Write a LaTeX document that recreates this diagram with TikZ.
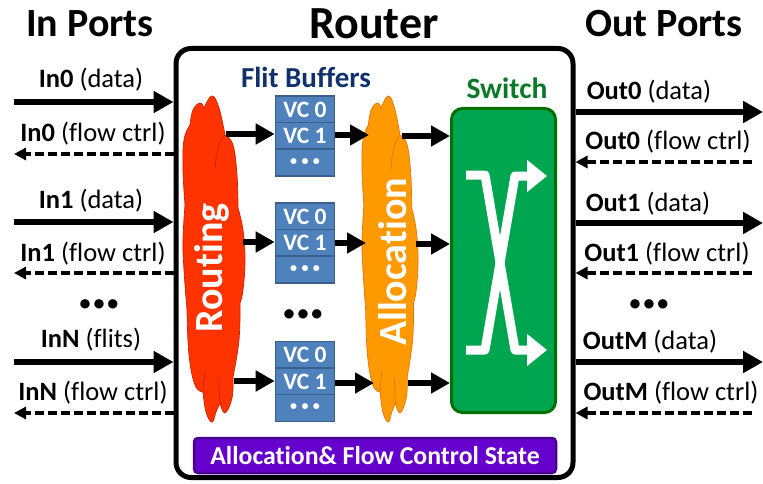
\documentclass[tikz,border=0pt]{standalone}
\usepackage{fontspec}
\setmainfont{Carlito}[Ligatures=CommonOff]
\usetikzlibrary{arrows.meta}
\definecolor{routered}{HTML}{FF3300}
\definecolor{routeredge}{HTML}{CC2200}
\definecolor{allocor}{HTML}{FF9900}
\definecolor{allocedge}{HTML}{E8720C}
\definecolor{vcfill}{HTML}{4F81BD}
\definecolor{vcedge}{HTML}{3A5F8B}
\definecolor{swfill}{HTML}{00A64F}
\definecolor{swedge}{HTML}{006E00}
\definecolor{swtext}{HTML}{0B7A28}
\definecolor{purfill}{HTML}{6600CC}
\definecolor{puredge}{HTML}{4A0090}
\definecolor{fbtext}{HTML}{10316B}
\newcommand{\bigdots}{•\hspace{3pt}•\hspace{3pt}•}
\newcommand{\vcdots}{\raisebox{1pt}{\fontsize{14}{14}\selectfont •\hspace{4.5pt}•\hspace{4.5pt}•}}
\tikzset{
  title/.style={font=\fontsize{40}{42}\selectfont\bfseries,text=black,inner sep=0pt},
  portlabel/.style={font=\fontsize{26.5}{28}\selectfont,text=black,inner sep=0pt},
  vcrow/.style={draw=vcedge,fill=vcfill,line width=1.6pt,minimum width=59pt,minimum height=27pt,text=white,inner sep=0pt,font=\fontsize{23.5}{24}\selectfont\bfseries},
  flow/.style={line width=6pt,-{Triangle[length=20pt,width=21pt]}},
  flowshort/.style={line width=6pt,-{Triangle[length=19pt,width=20pt]}},
  ctrl/.style={line width=3.8pt,dash pattern=on 9pt off 4pt,-{Triangle[length=12pt,width=12pt]}},
  swarrow/.style={draw=white,line width=9pt,-{Triangle[length=20pt,width=31pt]},line join=round},
  cloudtext/.style={text=white,rotate=90,inner sep=0pt,font=\fontsize{40}{42}\selectfont\bfseries},
  dotsmark/.style={inner sep=0pt,font=\fontsize{22}{22}\selectfont\bfseries,text=black},
}
\newcommand{\cloudpath}{
  plot[smooth,tension=.7] coordinates{(190,125)(193,110)(200,103)(204,108)}
  -- plot[smooth,tension=.7] coordinates{(204,108)(212,96)(219,108)(225,135)}
  -- plot[smooth,tension=.7] coordinates{(225,135)(233,145)(237,175)(238,208)}
  -- plot[smooth,tension=.7] coordinates{(238,208)(243,230)(245,260)(243,290)(240,303)}
  -- plot[smooth,tension=.7] coordinates{(240,303)(239,340)(233,377)}
  -- plot[smooth,tension=.7] coordinates{(233,377)(232,398)(225,413)(220,403)}
  -- plot[smooth,tension=.7] coordinates{(220,403)(216,412)(212,422)(206,412)(203,392)}
  -- plot[smooth,tension=.7] coordinates{(203,392)(195,385)(189,355)(187,310)}
  -- plot[smooth,tension=.7] coordinates{(187,310)(184,270)(183,240)(185,205)}
  -- plot[smooth,tension=.7] coordinates{(185,205)(183,170)(184,140)(190,125)}
  -- cycle
}
\begin{document}
\begin{tikzpicture}[x=1pt,y=-1pt]
\useasboundingbox (0,0) rectangle (763,484);

% Titles
\node[title] (tin) at (90,24) {In Ports};
\node[title,font=\fontsize{46}{48}\selectfont\bfseries] (trouter) at (374,24) {Router};
\node[title] (tout) at (664,24) {Out Ports};

% Router box
\node[draw=black,line width=5pt,rounded corners=15pt,minimum width=397pt,minimum height=429pt,inner sep=0pt] (router) at (374.5,263) {};

% Clouds
\draw[fill=routered,draw=routeredge,line width=.7pt] \cloudpath;
\draw[routeredge,line width=.7pt] (225,135) .. controls (218,142) and (216,155) .. (215,170);
\draw[routeredge,line width=.7pt] (220,403) .. controls (219,390) and (219,385) .. (219,378);
\draw[routeredge,line width=.7pt] (203,392) .. controls (203,385) and (204,380) .. (205,372);
\node[cloudtext] (routing) at (212,268) {Routing};

\begin{scope}[shift={(196.8,0)},xscale=.903]
\draw[fill=allocor,draw=allocedge,line width=.7pt] \cloudpath;
\draw[allocedge,line width=.7pt] (225,135) .. controls (218,142) and (216,155) .. (215,170);
\draw[allocedge,line width=.7pt] (220,403) .. controls (219,390) and (219,385) .. (219,378);
\draw[allocedge,line width=.7pt] (203,392) .. controls (203,385) and (204,380) .. (205,372);
\end{scope}
\node[cloudtext] (allocation) at (393,262) {Allocation};

% Flit buffers
\node[inner sep=0pt,text=fbtext,font=\fontsize{29}{30}\selectfont\bfseries] (fb) at (306,77) {Flit Buffers};

\node[vcrow] (a0) at (305,109.5) {VC 0};
\node[vcrow] (a1) at (305,136) {VC 1};
\node[vcrow] (a2) at (305,162.5) {\vcdots};

\node[vcrow] (b0) at (305,216.5) {VC 0};
\node[vcrow] (b1) at (305,243) {VC 1};
\node[vcrow] (b2) at (305,269.5) {\vcdots};

\node[vcrow] (c0) at (305,355) {VC 0};
\node[vcrow] (c1) at (305,381.5) {VC 1};
\node[vcrow] (c2) at (305,408) {\vcdots};

\node[dotsmark] (dm) at (303,315) {\bigdots};

% Switch
\node[draw=swedge,fill=swfill,line width=3pt,rounded corners=11pt,minimum width=104pt,minimum height=304pt,inner sep=0pt] (switch) at (503.5,260.5) {};
\node[inner sep=0pt,text=swtext,font=\fontsize{29.5}{30}\selectfont\bfseries] (swlabel) at (507,88) {Switch};
\coordinate (s1a) at (466,175);
\coordinate (s1b) at (547,350);
\coordinate (s2a) at (466,350);
\coordinate (s2b) at (547,176);
\draw[swarrow] (s1a) -- (485,175) -- (515,350) -- (s1b);
\draw[swarrow] (s2a) -- (485,350) -- (515,176) -- (s2b);

% State bar
\node[draw=puredge,fill=purfill,line width=2.5pt,rounded corners=4pt,minimum width=362pt,minimum height=35pt,inner sep=0pt,text=white,font=\fontsize{25.8}{27}\selectfont\bfseries] (state) at (375,455.5) {Allocation\& Flow Control State};

% Internal connectors
\coordinate (r1) at (226,134);
\coordinate (r2) at (243,242);
\coordinate (r3) at (234,381);
\draw[flowshort] (r1) -- (a1.west |- r1);
\draw[flowshort] (r2) -- (b1.west |- r2);
\draw[flowshort] (r3) -- (c1.west |- r3);
\coordinate (al1) at (369,135);
\coordinate (al2) at (366,243);
\coordinate (al3) at (374,383);
\draw[flowshort] (a1.east |- al1) -- (al1);
\draw[flowshort] (b1.east |- al2) -- (al2);
\draw[flowshort] (c1.east |- al3) -- (al3);
\coordinate (all1) at (402,136);
\coordinate (all2) at (416,244);
\coordinate (all3) at (408,383);
\draw[flowshort] (all1) -- (switch.west |- all1);
\draw[flowshort] (all2) -- (switch.west |- all2);
\draw[flowshort] (all3) -- (switch.west |- all3);

% In ports
\coordinate (i0) at (14,102);
\coordinate (i1) at (14,222);
\coordinate (i2) at (14,362);
\coordinate (ic0) at (14,154);
\coordinate (ic1) at (14,273);
\coordinate (ic2) at (14,413);
\draw[flow] (i0) -- (router.west |- i0);
\draw[flow] (i1) -- (router.west |- i1);
\draw[flow] (i2) -- (router.west |- i2);
\draw[ctrl] (router.west |- ic0) -- (ic0);
\draw[ctrl] (router.west |- ic1) -- (ic1);
\draw[ctrl] (router.west |- ic2) -- (ic2);
\node[portlabel] (li0) at (91,80) {\textbf{In0} (data)};
\node[portlabel] (lic0) at (93,134) {\textbf{In0} (flow ctrl)};
\node[portlabel] (li1) at (91,201) {\textbf{In1} (data)};
\node[portlabel] (lic1) at (93,254) {\textbf{In1} (flow ctrl)};
\node[portlabel] (li2) at (91,340) {\textbf{InN} (flits)};
\node[portlabel] (lic2) at (93,393) {\textbf{InN} (flow ctrl)};
\node[dotsmark] (dl) at (99,305) {\bigdots};

% Out ports
\coordinate (o0) at (763,112);
\coordinate (o1) at (763,223);
\coordinate (o2) at (763,362);
\coordinate (oc0) at (752,162);
\coordinate (oc1) at (752,273);
\coordinate (oc2) at (752,413);
\draw[flow] (router.east |- o0) -- (o0);
\draw[flow] (router.east |- o1) -- (o1);
\draw[flow] (router.east |- o2) -- (o2);
\draw[ctrl] (oc0) -- (router.east |- oc0);
\draw[ctrl] (oc1) -- (router.east |- oc1);
\draw[ctrl] (oc2) -- (router.east |- oc2);
\node[portlabel] (lo0) at (649,92) {\textbf{Out0} (data)};
\node[portlabel] (loc0) at (668,142) {\textbf{Out0} (flow ctrl)};
\node[portlabel] (lo1) at (648,204) {\textbf{Out1} (data)};
\node[portlabel] (loc1) at (667,254) {\textbf{Out1} (flow ctrl)};
\node[portlabel] (lo2) at (650,342) {\textbf{OutM} (data)};
\node[portlabel] (loc2) at (671,393) {\textbf{OutM} (flow ctrl)};
\node[dotsmark] (dr) at (649,305) {\bigdots};
\end{tikzpicture}
\end{document}
